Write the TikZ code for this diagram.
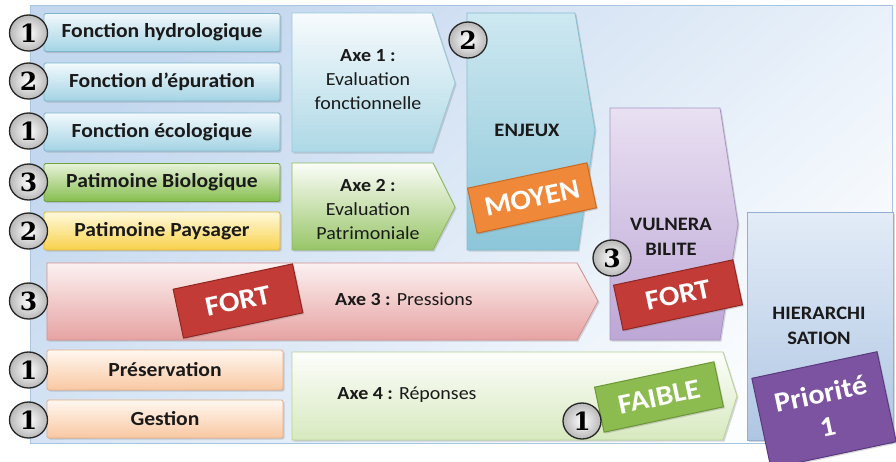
\documentclass[tikz,border=0pt]{standalone}
\usepackage{fontspec}
\setmainfont{Carlito}[FakeStretch=1.08]
\newfontfamily\numfont{DejaVu Serif}
\usetikzlibrary{shadows,shapes.geometric}
\definecolor{bgblue}{HTML}{C3D7EE}
\definecolor{bgwhite}{HTML}{FBFDFF}
\definecolor{bgline}{HTML}{A9C4E0}
\definecolor{blueT}{HTML}{F2F9FC}
\definecolor{blueB}{HTML}{A3D3E4}
\definecolor{blueD}{HTML}{7DB6CA}
\definecolor{greenT}{HTML}{E6F2D8}
\definecolor{greenB}{HTML}{86BE4F}
\definecolor{greenD}{HTML}{6FA33E}
\definecolor{yelT}{HTML}{FFF9DC}
\definecolor{yelB}{HTML}{F8D14A}
\definecolor{yelD}{HTML}{E0B63A}
\definecolor{pinkT}{HTML}{FCF1F1}
\definecolor{pinkB}{HTML}{E6A3A2}
\definecolor{pinkD}{HTML}{D49090}
\definecolor{peachT}{HTML}{FFF7F0}
\definecolor{peachB}{HTML}{F9C8A2}
\definecolor{peachD}{HTML}{E3AE88}
\definecolor{a4T}{HTML}{FDFEFB}
\definecolor{a4B}{HTML}{D7E9BF}
\definecolor{a4D}{HTML}{B5D296}
\definecolor{a1T}{HTML}{F7FBFD}
\definecolor{a1B}{HTML}{ADD8E6}
\definecolor{a1D}{HTML}{9CC8D8}
\definecolor{a2T}{HTML}{FBFDF8}
\definecolor{a2B}{HTML}{98C568}
\definecolor{a2D}{HTML}{8AB85C}
\definecolor{enjT}{HTML}{CDE8F1}
\definecolor{enjB}{HTML}{8CC6D8}
\definecolor{enjD}{HTML}{86BDD0}
\definecolor{vulT}{HTML}{E9E0F2}
\definecolor{vulB}{HTML}{BDA7D6}
\definecolor{vulD}{HTML}{A994C4}
\definecolor{hieT}{HTML}{E3ECF7}
\definecolor{hieB}{HTML}{AFC6E3}
\definecolor{hieD}{HTML}{93AED2}
\definecolor{tagO}{HTML}{F0883A}
\definecolor{tagOD}{HTML}{C96A22}
\definecolor{tagR}{HTML}{C23B36}
\definecolor{tagRD}{HTML}{8F2622}
\definecolor{tagG}{HTML}{8CBC50}
\definecolor{tagGD}{HTML}{6A9636}
\definecolor{tagP}{HTML}{7B53A1}
\definecolor{tagPD}{HTML}{5A3A7E}
\definecolor{txt}{HTML}{1A1A1A}
\begin{document}
\begin{tikzpicture}[x=1pt,y=-1pt,
  shad/.style={drop shadow={shadow xshift=1.5pt,shadow yshift=-1.5pt,opacity=0.3}},
  lbox/.style={rounded corners=1.5pt,line width=0.8pt,minimum width=236pt,
    minimum height=38pt,font=\fontsize{20}{22}\selectfont\bfseries,text=txt,shad},
  chev/.style={line width=0.8pt,shad},
  axetxt/.style={align=center,text=txt,font=\fontsize{18.5}{24}\selectfont},
  captxt/.style={align=center,text=txt,font=\fontsize{19}{25}\selectfont\bfseries},
  tagbox/.style={line width=1pt,minimum width=122pt,minimum height=46pt,rotate=12,
    text=white,font=\fontsize{28}{32}\selectfont\bfseries,shad},
  numc/.style={ellipse,draw=black!85,line width=1.3pt,minimum width=38pt,minimum height=36pt,
    inner color=white,outer color=black!28,inner sep=0pt,
    font=\numfont\fontsize{25}{25}\selectfont\bfseries,text=black}]
\useasboundingbox (0,0) rectangle (896,461);
% background panel
\shadedraw[draw=bgline,line width=0.8pt,left color=bgblue,right color=bgwhite,shading angle=40]
  (30,5) rectangle (892,443);
% left boxes
\node[lbox,draw=blueD,top color=blueT,bottom color=blueB] (fh) at (162,32.5) {Fonction hydrologique};
\node[lbox,draw=blueD,top color=blueT,bottom color=blueB] (fe) at (162,82) {Fonction d’épuration};
\node[lbox,draw=blueD,top color=blueT,bottom color=blueB] (fc) at (162,132) {Fonction écologique};
\node[lbox,draw=greenD,top color=greenT,bottom color=greenB] (pb) at (162,182.5) {Patimoine Biologique};
\node[lbox,draw=yelD,top color=yelT,bottom color=yelB] (pp) at (162,231) {Patimoine Paysager};
\node[lbox,draw=peachD,top color=peachT,bottom color=peachB,minimum height=40pt] (pr) at (165,370) {Préservation};
\node[lbox,draw=peachD,top color=peachT,bottom color=peachB] (ge) at (165,419) {Gestion};
% chevrons
\shadedraw[chev,draw=a1D,top color=a1T,bottom color=a1B]
  (292,13) -- (432,13) -- (455,83) -- (432,152) -- (292,152) -- cycle;
\shadedraw[chev,draw=a2D,top color=a2T,bottom color=a2B]
  (292,163) -- (433,163) -- (455,207) -- (433,250) -- (292,250) -- cycle;
\shadedraw[chev,draw=pinkD,top color=pinkT,bottom color=pinkB]
  (47,263) -- (577,263) -- (598,301) -- (577,340) -- (47,340) -- cycle;
\shadedraw[chev,draw=a4D,top color=a4T,bottom color=a4B]
  (292,352) -- (723,352) -- (737,396) -- (723,440) -- (292,440) -- cycle;
\shadedraw[chev,draw=enjD,top color=enjT,bottom color=enjB]
  (467,13) -- (575,13) -- (595,130) -- (578,250) -- (467,250) -- cycle;
\shadedraw[chev,draw=vulD,top color=vulT,bottom color=vulB]
  (610,108) -- (720,108) -- (738,224) -- (720,340) -- (610,340) -- cycle;
\shadedraw[chev,draw=hieD,top color=hieT,bottom color=hieB]
  (747,212) rectangle (893,440);
% chevron texts
\node[axetxt] (ax1) at (368,80) {\textbf{Axe 1 :}\\Evaluation\\fonctionnelle};
\node[axetxt] (ax2) at (368,209) {\textbf{Axe 2 :}\\Evaluation\\Patrimoniale};
\node[axetxt] (ax3) at (404,299) {\textbf{Axe 3 :} Pressions};
\node[axetxt] (ax4) at (407,395) {\textbf{Axe 4 :} Réponses};
\node[captxt] (enj) at (527,130) {ENJEUX};
\node[captxt] (vul) at (671,237) {VULNERA\\BILITE};
\node[captxt] (hie) at (819,326) {HIERARCHI\\SATION};
% tags
\node[tagbox,fill=tagO,draw=tagOD] (moyen) at (532,198) {MOYEN};
\node[tagbox,fill=tagR,draw=tagRD,minimum height=50pt] (fort1) at (238,301) {FORT};
\node[tagbox,fill=tagR,draw=tagRD] (fort2) at (678,295) {FORT};
\node[tagbox,fill=tagG,draw=tagGD] (faible) at (659,397) {FAIBLE};
\node[tagbox,fill=tagP,draw=tagPD,minimum width=128pt,minimum height=92pt,align=center,
  font=\fontsize{28}{34}\selectfont\bfseries] (prio) at (824,410) {Priorité\\1};
% number circles
\node[numc] (n1) at (28.5,33) {1};
\node[numc] (n2) at (28.5,81) {2};
\node[numc] (n3) at (28.5,131) {1};
\node[numc] (n4) at (28.5,182) {3};
\node[numc] (n5) at (28.5,231) {2};
\node[numc] (n6) at (28.5,301) {3};
\node[numc] (n7) at (28.5,370) {1};
\node[numc] (n8) at (28.5,420) {1};
\node[numc] (n9) at (468,40) {2};
\node[numc] (n10) at (612,258) {3};
\node[numc] (n11) at (582,421) {1};
\end{tikzpicture}
\end{document}
